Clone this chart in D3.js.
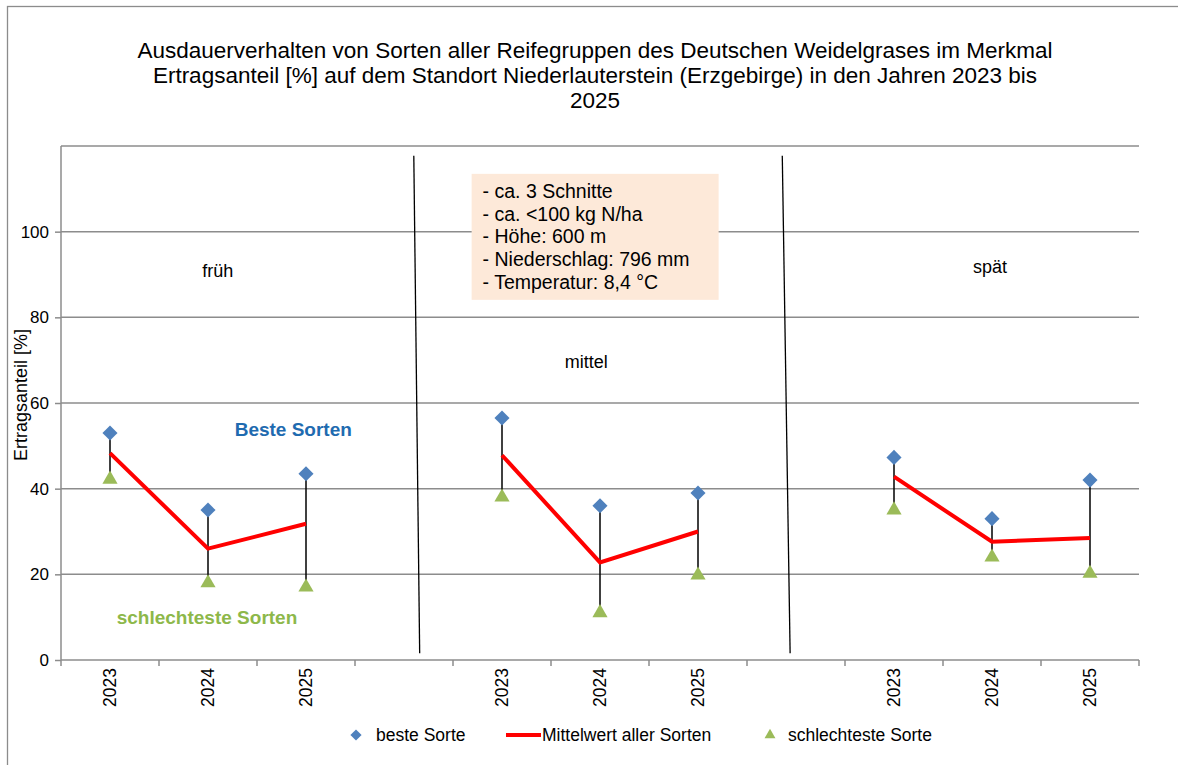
<!DOCTYPE html>
<html>
<head>
<meta charset="utf-8">
<script src="https://cdn.jsdelivr.net/npm/d3@7"></script>
<style>
  html, body { margin: 0; padding: 0; background: #fff; }
  svg { display: block; font-family: "Liberation Sans", Arial, sans-serif; }
</style>
</head>
<body>
<svg id="chart" width="1178" height="765"></svg>
<script>
// ---- data ----
const categories = ["f2023","f2024","f2025","gap1","m2023","m2024","m2025","gap2","s2023","s2024","s2025"];
const tickLabels = ["2023","2024","2025","","2023","2024","2025","","2023","2024","2025"];
const besteSorte = [53, 35, 43.5, null, 56.5, 36, 39, null, 47.3, 33, 42];
const mittelwert = [48.3, 26, 31.8, null, 47.8, 22.8, 30, null, 42.8, 27.6, 28.5];
const schlechtesteSorte = [42.2, 18, 17, null, 38, 11, 19.8, null, 35, 24, 20.2];
const yTicks = [0, 20, 40, 60, 80, 100];
const gridValues = [20, 40, 60, 80, 100, 120];
const titleLines = [
  "Ausdauerverhalten von Sorten aller Reifegruppen des Deutschen Weidelgrases im Merkmal",
  "Ertragsanteil [%] auf dem Standort Niederlauterstein (Erzgebirge) in den Jahren 2023 bis",
  "2025"
];
const infoLines = ["- ca. 3 Schnitte", "- ca. <100 kg N/ha", "- Höhe: 600 m", "- Niederschlag: 796 mm", "- Temperatur: 8,4 °C"];
const groupLabels = [
  { text: "früh", cat: 1.10, value: 89.4 },
  { text: "mittel", cat: 4.86, value: 68.2 },
  { text: "spät", cat: 8.98, value: 90.3 }
];
// separators in category-index units (0 = centre of first category)
const separators = [
  { c0: 3.10, v0: 117.7, c1: 3.16, v1: 1.6 },
  { c0: 6.86, v0: 117.7, c1: 6.94, v1: 1.6 }
];

// ---- layout ----
const svg = d3.select("#chart");
const pLeft = 61, pRight = 1139, pTop = 146, pBottom = 660;

const x = d3.scaleBand().domain(categories).range([pLeft, pRight]).padding(0);
const xi = d3.scaleLinear().domain([0, 1]).range([pLeft + x.bandwidth() / 2, pLeft + x.bandwidth() * 1.5]);
const y = d3.scaleLinear().domain([0, 120]).range([pBottom, pTop]);
const cx = i => x(categories[i]) + x.bandwidth() / 2;

// outer frame
svg.append("rect").attr("x", 7.5).attr("y", 6.5).attr("width", 1200).attr("height", 800)
  .attr("fill", "none").attr("stroke", "#8c8c8c").attr("stroke-width", 1.3);

// title
svg.append("g").selectAll("text").data(titleLines).join("text")
  .attr("x", 595).attr("y", (d, i) => 58 + i * 25)
  .attr("text-anchor", "middle").attr("font-size", "22.5px").attr("fill", "#000")
  .text(d => d);

// gridlines
svg.append("g").selectAll("line").data(gridValues).join("line")
  .attr("x1", pLeft).attr("x2", pRight)
  .attr("y1", d => y(d)).attr("y2", d => y(d))
  .attr("stroke", "#8c8c8c").attr("stroke-width", 1.5);

// y axis
const yAxis = d3.axisLeft(y).tickValues(yTicks).tickSize(6).tickPadding(6).tickFormat(d3.format("d"));
const gy = svg.append("g").attr("transform", `translate(${pLeft},0)`).call(yAxis);
gy.select(".domain").attr("stroke", "#8c8c8c").attr("stroke-width", 1.5).attr("d", `M0,${pBottom}V${pTop}`);
gy.selectAll(".tick line").attr("stroke", "#8c8c8c").attr("stroke-width", 1.5);
gy.selectAll(".tick text").attr("font-size", "17px").attr("fill", "#000")
  .attr("font-family", "Liberation Sans, Arial, sans-serif");

// x axis
const xAxis = d3.axisBottom(x).tickSize(0).tickFormat((d, i) => tickLabels[i]);
const gx = svg.append("g").attr("transform", `translate(0,${pBottom})`).call(xAxis);
gx.select(".domain").attr("stroke", "#8c8c8c").attr("stroke-width", 1.5).attr("d", `M${pLeft},0H${pRight}`);
gx.selectAll(".tick text")
  .attr("font-size", "17.5px").attr("fill", "#000")
  .attr("font-family", "Liberation Sans, Arial, sans-serif")
  .attr("transform", "rotate(-90)")
  .attr("text-anchor", "end").attr("dy", "0.35em").attr("y", 0).attr("x", -8);
// boundary ticks
const boundaries = d3.range(categories.length + 1).map(i => pLeft + i * x.bandwidth());
svg.append("g").selectAll("line").data(boundaries).join("line")
  .attr("x1", d => d).attr("x2", d => d).attr("y1", pBottom).attr("y2", pBottom + 6)
  .attr("stroke", "#8c8c8c").attr("stroke-width", 1.5);

// y label
svg.append("text").attr("transform", `translate(27,395) rotate(-90)`)
  .attr("text-anchor", "middle").attr("font-size", "18px").attr("fill", "#000")
  .text("Ertragsanteil [%]");

// separators
svg.append("g").selectAll("line").data(separators).join("line")
  .attr("x1", d => xi(d.c0)).attr("y1", d => y(d.v0))
  .attr("x2", d => xi(d.c1)).attr("y2", d => y(d.v1))
  .attr("stroke", "#000").attr("stroke-width", 1.3);

// info box
const bx = xi(3.69), by = y(113.5), bw = 247, bh = 126;
svg.append("rect").attr("x", bx).attr("y", by).attr("width", bw).attr("height", bh).attr("fill", "#FDE9D9");
svg.append("g").selectAll("text").data(infoLines).join("text")
  .attr("x", bx + 11).attr("y", (d, i) => by + 24 + i * 22.8)
  .attr("font-size", "19.5px").attr("fill", "#000").text(d => d);

// group labels
svg.append("g").selectAll("text").data(groupLabels).join("text")
  .attr("x", d => xi(d.cat)).attr("y", d => y(d.value))
  .attr("text-anchor", "middle").attr("font-size", "18px").attr("fill", "#000").text(d => d.text);

// series annotations
svg.append("text").attr("x", xi(1.87)).attr("y", y(52.2)).attr("text-anchor", "middle")
  .attr("font-size", "19px").attr("font-weight", "bold").attr("fill", "#1F6BB0").text("Beste Sorten");
svg.append("text").attr("x", xi(0.99)).attr("y", y(8.4)).attr("text-anchor", "middle")
  .attr("font-size", "19px").attr("font-weight", "bold").attr("fill", "#8DB84A").text("schlechteste Sorten");

// hi-lo lines
const idx = d3.range(categories.length).filter(i => besteSorte[i] != null);
svg.append("g").selectAll("line").data(idx).join("line")
  .attr("x1", i => cx(i)).attr("x2", i => cx(i))
  .attr("y1", i => y(besteSorte[i])).attr("y2", i => y(schlechtesteSorte[i]))
  .attr("stroke", "#000").attr("stroke-width", 1.5);

// mean line
const line = d3.line().defined(d => d != null).x((d, i) => cx(i)).y(d => y(d));
svg.append("path").datum(mittelwert).attr("d", line)
  .attr("fill", "none").attr("stroke", "#FF0000").attr("stroke-width", 4);

// markers
const diamond = d3.symbol().type(d3.symbolDiamond2).size(145);
const triangle = d3.symbol().type(d3.symbolTriangle2).size(165);
svg.append("g").selectAll("path").data(idx).join("path")
  .attr("transform", i => `translate(${cx(i)},${y(besteSorte[i])})`)
  .attr("d", diamond).attr("fill", "#4F81BD");
svg.append("g").selectAll("path").data(idx).join("path")
  .attr("transform", i => `translate(${cx(i)},${y(schlechtesteSorte[i])})`)
  .attr("d", triangle).attr("fill", "#9BBB59");

// legend
const ly = 735;
const lg = svg.append("g").attr("font-size", "17.5px");
lg.append("path").attr("transform", `translate(356,${ly})`).attr("d", d3.symbol().type(d3.symbolDiamond2).size(80)).attr("fill", "#4F81BD");
lg.append("text").attr("x", 376).attr("y", ly + 6).text("beste Sorte");
lg.append("line").attr("x1", 506).attr("x2", 541).attr("y1", ly).attr("y2", ly).attr("stroke", "#FF0000").attr("stroke-width", 4);
lg.append("text").attr("x", 542).attr("y", ly + 6).text("Mittelwert aller Sorten");
lg.append("path").attr("transform", `translate(770,${ly})`).attr("d", d3.symbol().type(d3.symbolTriangle2).size(85)).attr("fill", "#9BBB59");
lg.append("text").attr("x", 788).attr("y", ly + 6).text("schlechteste Sorte");
</script>
</body>
</html>
